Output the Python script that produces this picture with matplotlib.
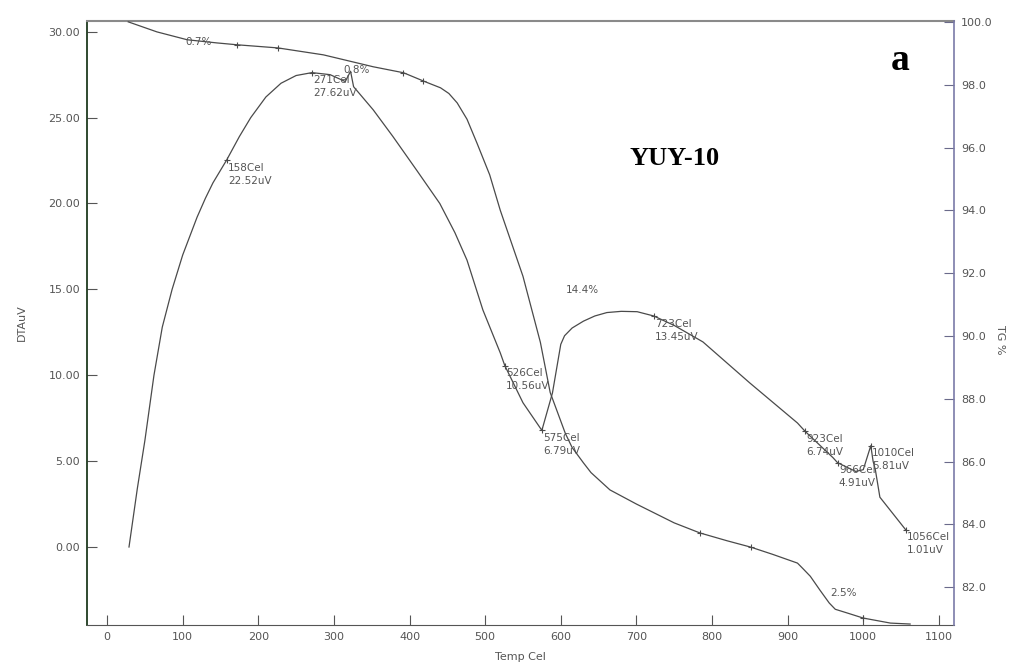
import numpy as np
import matplotlib
matplotlib.use('Agg')
import matplotlib.pyplot as plt

# DTA curve (temperature in Cel, signal in uV)
dta_temp = [29, 40, 50, 62, 73, 86, 100, 119, 130, 140, 158, 175, 190, 210, 230, 250, 271,
            295, 315, 322, 326, 352, 378, 410, 440, 460, 476, 497, 520, 526, 550, 575,
            589, 600, 605, 615, 630, 645, 661, 680, 701, 723, 750, 788, 850, 913, 923,
            960, 966, 990, 1000, 1010, 1013, 1016, 1022, 1040, 1056]
dta_uv = [0.0, 3.4, 6.2, 10.0, 12.8, 15.0, 17.0, 19.2, 20.3, 21.2, 22.52, 23.9, 25.0, 26.2, 27.0, 27.45, 27.62,
          27.5, 27.1, 27.7, 26.8, 25.45, 23.9, 21.9, 20.0, 18.3, 16.7, 13.8, 11.3, 10.56, 8.4, 6.79,
          8.97, 11.8, 12.3, 12.75, 13.15, 13.45, 13.65, 13.72, 13.7, 13.45, 12.9, 11.94, 9.55, 7.22, 6.74,
          5.2, 4.91, 4.4, 4.5, 5.9, 5.0, 4.5, 2.9, 1.9, 1.01]

# TG curve (temperature in Cel, mass in %)
tg_temp = [28, 66, 106, 145, 172, 226, 286, 352, 392, 421, 441, 452, 463, 476, 489, 506, 520, 550,
           573, 586, 606, 615, 630, 640, 665, 700, 750, 784, 820, 851, 880, 913, 920, 930,
           943, 955, 963, 979, 1000, 1036, 1062]
tg_pct = [100.0, 99.68, 99.43, 99.33, 99.27, 99.17, 98.95, 98.57, 98.38, 98.09, 97.9, 97.72, 97.42,
          96.9, 96.15, 95.13, 94.0, 91.9, 89.8, 88.2, 86.9, 86.45, 85.96, 85.65, 85.1, 84.65,
          84.05, 83.73, 83.48, 83.28, 83.05, 82.77, 82.6, 82.35, 81.9, 81.5, 81.3, 81.18,
          81.02, 80.86, 80.83]

# labelled DTA points
peak_temp = [158, 271, 526, 575, 723, 923, 966, 1010, 1056]
peak_uv = ['22.52', '27.62', '10.56', '6.79', '13.45', '6.74', '4.91', '5.81', '1.01']

# marks on TG curve
tg_mark_temp = [172, 226, 392, 418, 784, 851, 1000]

# weight loss labels
loss_text = ['0.7%', '0.8%', '14.4%', '2.5%']
loss_temp = [103, 312, 606, 956]
loss_pct = [99.36, 98.47, 91.46, 81.82]

line_color = '#4a4a4a'
text_color = '#555555'

fig = plt.figure(figsize=(10.3, 6.66), dpi=100)
ax = fig.add_axes([0.0845, 0.0616, 0.8417, 0.907])
ax2 = ax.twinx()

ax.plot(dta_temp, dta_uv, color=line_color, lw=0.9)
ax2.plot(tg_temp, tg_pct, color=line_color, lw=0.9)

# small + markers
mark_y = np.interp(peak_temp, dta_temp, dta_uv)
ax.plot(peak_temp, mark_y, ls='none', marker='+', ms=4, mew=0.8, color=line_color)
tg_mark_y = np.interp(tg_mark_temp, tg_temp, tg_pct)
ax2.plot(tg_mark_temp, tg_mark_y, ls='none', marker='+', ms=4, mew=0.8, color=line_color)

# peak annotations
for t, y, v in zip(peak_temp, mark_y, peak_uv):
    ax.annotate(f'{t}Cel\n{v}uV', (t, y), xytext=(1, -2), textcoords='offset points',
                ha='left', va='top', fontsize=7.5, color=text_color, linespacing=1.35)

for txt, t, p in zip(loss_text, loss_temp, loss_pct):
    ax2.text(t, p, txt, ha='left', va='center', fontsize=7.5, color=text_color)

# axis limits and ticks
ax.set_xlim(-26.5, 1120)
ax.set_ylim(-4.54, 30.63)
ax2.set_ylim(80.80, 100.03)
ax.set_xticks(range(0, 1101, 100))
ax.set_yticks([0, 5, 10, 15, 20, 25, 30])
ax.set_yticklabels([f'{v:.2f}' for v in [0, 5, 10, 15, 20, 25, 30]])
ax2.set_yticks([82, 84, 86, 88, 90, 92, 94, 96, 98, 100])
ax2.set_yticklabels([f'{v:.1f}' for v in [82, 84, 86, 88, 90, 92, 94, 96, 98, 100]])

ax.tick_params(axis='both', direction='in', length=7, width=0.8, labelsize=8,
               labelcolor=text_color, color='#555555', pad=5)
ax2.tick_params(axis='y', direction='in', length=7, width=0.8, labelsize=8,
                labelcolor=text_color, color='#6a6a8a', pad=5)

# spines
ax.spines['left'].set_color('#1f3a1f')
ax.spines['left'].set_linewidth(1.3)
ax.spines['bottom'].set_color('#555555')
ax.spines['top'].set_color('#8a8a8a')
ax.spines['top'].set_linewidth(1.5)
ax.spines['right'].set_visible(False)
for s in ['left', 'top', 'bottom']:
    ax2.spines[s].set_visible(False)
ax2.spines['right'].set_color('#7a7aa8')
ax2.spines['right'].set_linewidth(1.2)

# axis titles
fig.text(22 / 1030, 1 - 323 / 666, 'DTAuV', rotation=90, ha='center', va='center',
         fontsize=8, color=text_color)
fig.text(1000 / 1030, 1 - 340 / 666, 'TG %', rotation=270, ha='center', va='center',
         fontsize=8, color=text_color)
fig.text(520 / 1030, 1 - 657 / 666, 'Temp Cel', ha='center', va='center',
         fontsize=8, color=text_color)

# sample labels
ax.text(0.678, 0.773, 'YUY-10', transform=ax.transAxes, ha='center', va='center',
        fontsize=19, fontweight='bold', family='Liberation Serif', color='black')
ax.text(0.938, 0.935, 'a', transform=ax.transAxes, ha='center', va='center',
        fontsize=27, fontweight='bold', family='Liberation Serif', color='black')

plt.savefig('out.png', dpi=100)
plt.close()
